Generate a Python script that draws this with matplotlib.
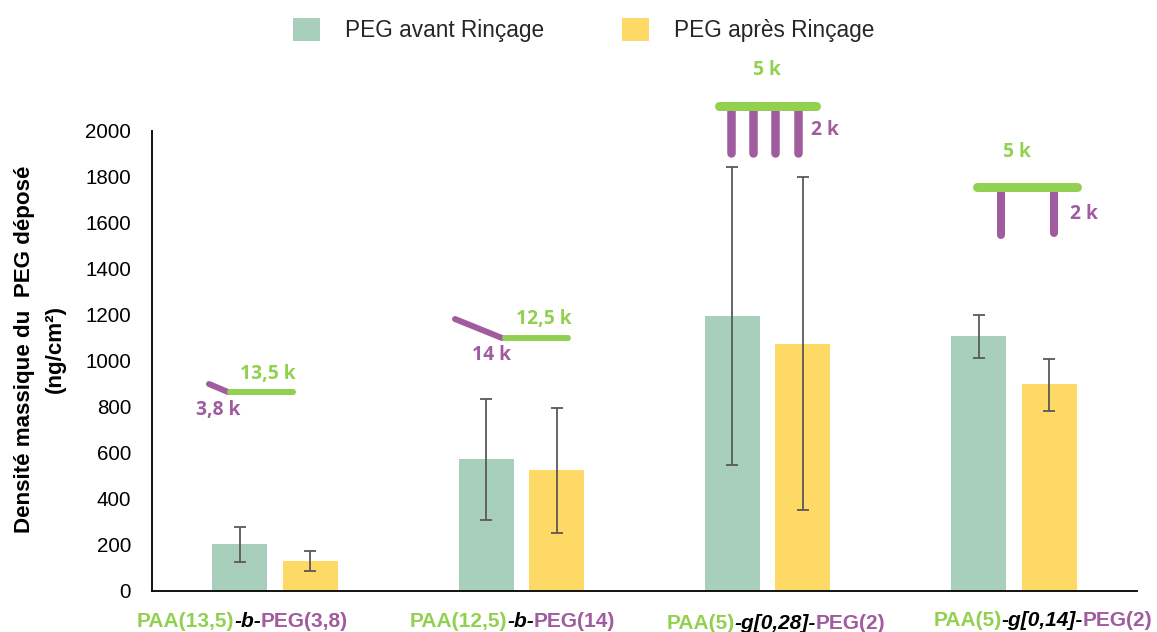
import matplotlib
matplotlib.use("Agg")
import matplotlib.pyplot as plt
from matplotlib.lines import Line2D
import numpy as np

W, H = 1157, 632
plt.rcParams['font.family'] = ['Liberation Sans', 'DejaVu Sans']

GREEN, PURPLE = '#92D050', '#A05C9E'
TEAL, YELLOW = '#A8CEBC', '#FFD966'

avant = [205, 575, 1195, 1108]
apres = [130, 527, 1075, 900]
avant_low = [127, 309, 548, 1013]
avant_high = [280, 835, 1843, 1200]
apres_low = [87, 254, 352, 783]
apres_high = [174, 797, 1800, 1009]
yticks = list(range(0, 2001, 200))
series_names = ['PEG avant Rinçage', 'PEG après Rinçage']
ylabel_lines = ['Densité massique du  PEG déposé', '(ng/cm²)']

# Category labels as (text, colour, style) pieces with their pixel origin
cat_labels = [
    ([('PAA(13,5)', GREEN, 'normal'), ('-b-', 'black', 'italic'), ('PEG(3,8)', PURPLE, 'normal')], 137, 627),
    ([('PAA(12,5)', GREEN, 'normal'), ('-b-', 'black', 'italic'), ('PEG(14)', PURPLE, 'normal')], 410, 627),
    ([('PAA(5)', GREEN, 'normal'), ('-g[0,28]-', 'black', 'italic'), ('PEG(2)', PURPLE, 'normal')], 667, 629),
    ([('PAA(5)', GREEN, 'normal'), ('-g[0,14]-', 'black', 'italic'), ('PEG(2)', PURPLE, 'normal')], 934, 626),
]

fig = plt.figure(figsize=(W / 100, H / 100), dpi=100, facecolor='white')
L, R, T, B = 152, 1137, 131, 591
ax = fig.add_axes([L / W, 1 - B / H, (R - L) / W, (B - T) / H])
ax.set_xlim(0, 4)
ax.set_ylim(0, 2000)

x = np.arange(4) + 0.5
bw, off = 0.2236, 0.1431
ekw = dict(ecolor='#595959', elinewidth=1.3, capsize=4, capthick=1.3, zorder=3)
for vals, lo, hi, c, sign, name in [
    (avant, avant_low, avant_high, TEAL, -1, series_names[0]),
    (apres, apres_low, apres_high, YELLOW, 1, series_names[1]),
]:
    v = np.array(vals)
    ax.bar(x + sign * off, v, bw, color=c, label=name, zorder=2,
           yerr=[v - np.array(lo), np.array(hi) - v], error_kw=ekw)

for s in ['top', 'right']:
    ax.spines[s].set_visible(False)
for s in ['left', 'bottom']:
    ax.spines[s].set_linewidth(1.3)
    ax.spines[s].set_color('black')
ax.set_xticks([])
ax.set_yticks(yticks)
ax.tick_params(axis='y', length=0, pad=15, labelsize=14.8, labelcolor='black')
ax.spines['left'].set_bounds(0, 2000)

fig.legend(loc='center', bbox_to_anchor=(583.5 / W, 1 - 30 / H), ncol=2, frameon=False,
           fontsize=16.3, handlelength=1.2, handleheight=1.15, handletextpad=1.1,
           columnspacing=3.45, labelcolor='#262626')


def px(xp, yp):
    return xp / W, 1 - yp / H


def seg(x0, y0, x1, y1, c, lw, cap='round'):
    fig.add_artist(Line2D([x0 / W, x1 / W], [1 - y0 / H, 1 - y1 / H], color=c,
                          lw=lw * 72 / 100, solid_capstyle=cap, transform=fig.transFigure))


def tag(xp, yp, s, c, size=13.9):
    fig.text(*px(xp, yp), s, color=c, fontsize=size, fontweight='bold',
             family='Open Sans', ha='center', va='center')


# Y axis title
for xp, line in zip([24.5, 55], ylabel_lines):
    fig.text(*px(xp, 349), line, rotation=90, ha='center', va='center',
             fontsize=16.1, fontweight='bold', color='black')

# Category labels
fig.canvas.draw()
rend = fig.canvas.get_renderer()
for pieces, x0, yb in cat_labels:
    cur = x0
    for s, c, st in pieces:
        t = fig.text(cur / W, 1 - yb / H, s, color=c, fontsize=15.0, fontweight='bold',
                     fontstyle=st, ha='left', va='baseline')
        cur = t.get_window_extent(rend).x1 - 0.5

# Copolymer sketches
seg(209, 384, 228, 392, PURPLE, 6)
seg(230, 392, 293, 392, GREEN, 6)
tag(218, 410, '3,8 k', PURPLE)
tag(268, 374, '13,5 k', GREEN)

seg(455, 319, 502, 338, PURPLE, 6)
seg(505, 338, 568, 338, GREEN, 6)
tag(492, 355, '14 k', PURPLE)
tag(544, 319, '12,5 k', GREEN)

for xp in [731, 753, 775, 797.5]:
    seg(xp, 108, xp, 153, PURPLE, 8.5)
seg(718.5, 106, 815.5, 106, GREEN, 9)
tag(767, 70, '5 k', GREEN)
tag(825, 130, '2 k', PURPLE)

for xp, y1 in [(1001, 235), (1054, 233)]:
    seg(xp, 188, xp, y1, PURPLE, 8)
seg(976.5, 187, 1076.5, 187, GREEN, 9)
tag(1017, 152, '5 k', GREEN)
tag(1084, 214, '2 k', PURPLE)

fig.savefig('out.png', dpi=100, facecolor='white')
